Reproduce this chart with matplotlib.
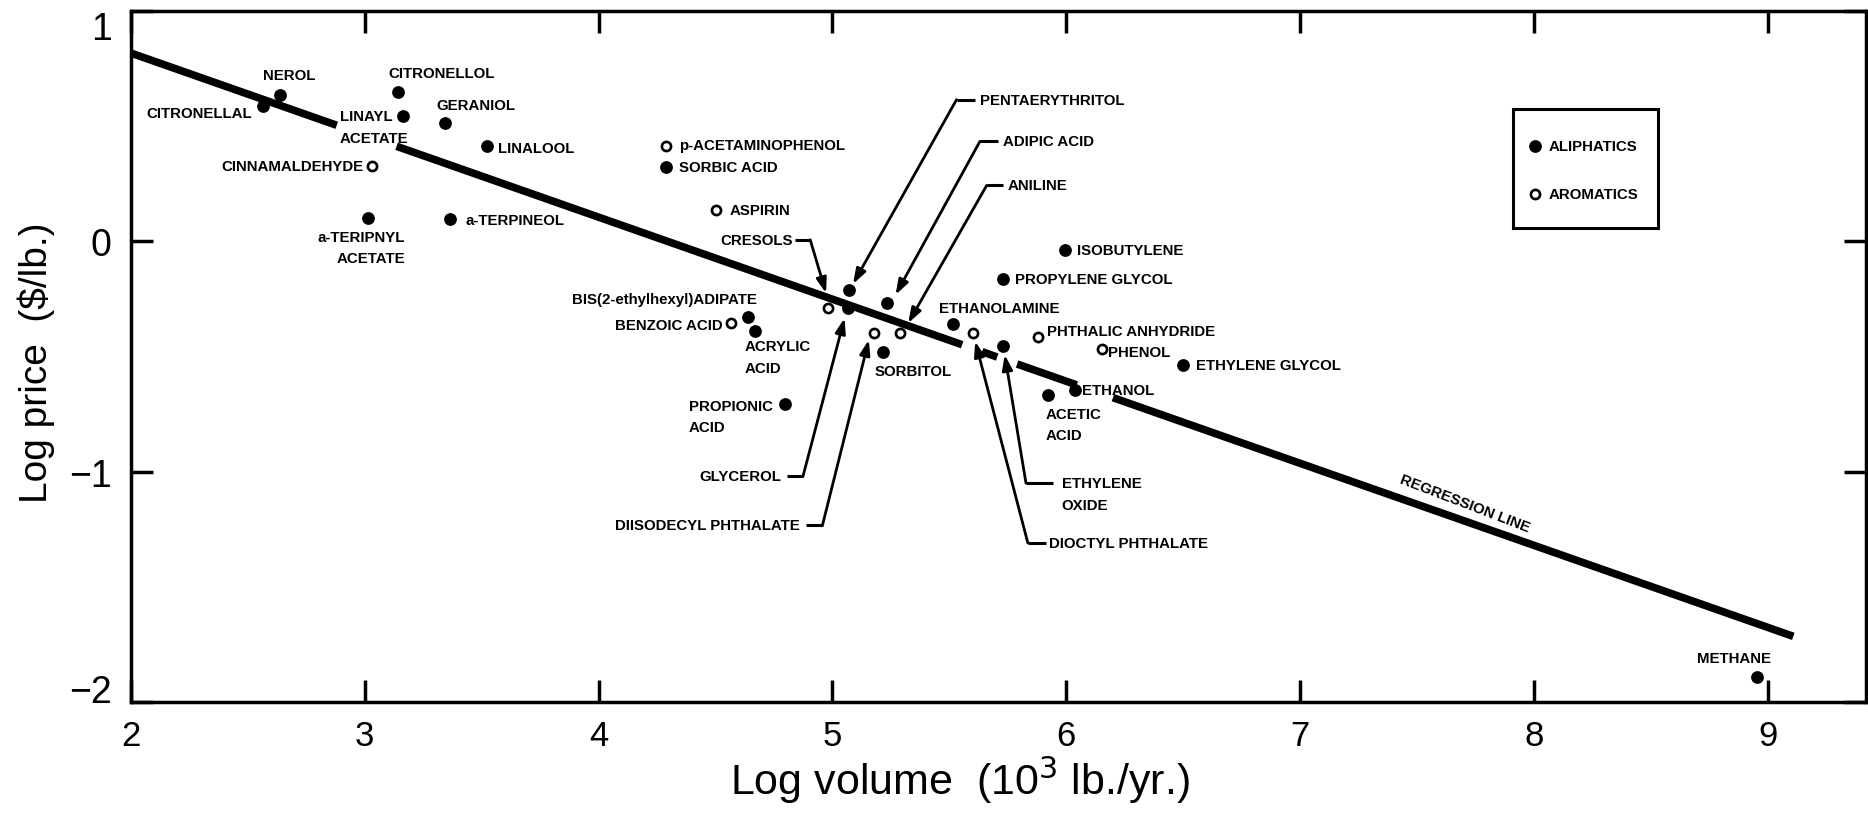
#!/usr/bin/env python

"""Log price versus log production volume of commodity chemicals, with the
regression line through the aliphatic and aromatic compounds.
"""

import matplotlib
matplotlib.use('Agg')
import matplotlib.pyplot as plt
from matplotlib.patches import Rectangle

# Aliphatic compounds (filled circles): log volume, log price
aliph_names = ['CITRONELLAL', 'NEROL', 'CITRONELLOL', 'LINAYL ACETATE',
               'GERANIOL', 'LINALOOL', 'a-TERIPNYL ACETATE', 'a-TERPINEOL',
               'SORBIC ACID', 'BIS(2-ethylhexyl)ADIPATE', 'ACRYLIC ACID',
               'PROPIONIC ACID', 'PENTAERYTHRITOL', 'GLYCEROL', 'ADIPIC ACID',
               'SORBITOL', 'ETHANOLAMINE', 'ETHYLENE OXIDE',
               'PROPYLENE GLYCOL', 'ISOBUTYLENE', 'ACETIC ACID', 'ETHANOL',
               'ETHYLENE GLYCOL', 'METHANE']
aliph_x = [2.566, 2.637, 3.143, 3.165, 3.343, 3.521, 3.015, 3.364,
           4.287, 4.637, 4.667, 4.797, 5.070, 5.065, 5.235, 5.217,
           5.515, 5.730, 5.728, 5.995, 5.923, 6.038, 6.500, 8.953]
aliph_y = [0.586, 0.635, 0.649, 0.541, 0.512, 0.411, 0.100, 0.097,
           0.322, -0.330, -0.392, -0.707, -0.213, -0.290, -0.270, -0.480,
           -0.360, -0.455, -0.165, -0.040, -0.667, -0.645, -0.537, -1.893]

# Aromatic compounds (open circles)
arom_names = ['CINNAMALDEHYDE', 'p-ACETAMINOPHENOL', 'ASPIRIN',
              'BENZOIC ACID', 'CRESOLS', 'DIISODECYL PHTHALATE', 'ANILINE',
              'DIOCTYL PHTHALATE', 'PHTHALIC ANHYDRIDE', 'PHENOL']
arom_x = [3.030, 4.290, 4.500, 4.565, 4.980, 5.180, 5.290, 5.600, 5.880,
          6.152]
arom_y = [0.324, 0.415, 0.133, -0.356, -0.290, -0.400, -0.400, -0.400,
          -0.414, -0.470]

# Regression line (log price = a + b * log volume), drawn in pieces
# because the printed line is interrupted under some labels
reg_intercept = 1.528
reg_slope = -0.356
reg_pieces = [(2.0, 2.88), (3.136, 5.555), (5.64, 5.705), (5.79, 6.045),
              (6.20, 9.11)]

# Label lines: text, x, y, horizontal alignment
labels = [
    ('NEROL', 2.676, 0.722, 'center'),
    ('CITRONELLAL', 2.516, 0.555, 'right'),
    ('CITRONELLOL', 3.100, 0.729, 'left'),
    ('LINAYL', 2.894, 0.541, 'left'),
    ('ACETATE', 2.894, 0.447, 'left'),
    ('CINNAMALDEHYDE', 2.994, 0.324, 'right'),
    ('GERANIOL', 3.307, 0.591, 'left'),
    ('LINALOOL', 3.571, 0.403, 'left'),
    ('a-TERIPNYL', 3.172, 0.017, 'right'),
    ('ACETATE', 3.172, -0.074, 'right'),
    ('a-TERPINEOL', 3.429, 0.092, 'left'),
    ('p-ACETAMINOPHENOL', 4.346, 0.418, 'left'),
    ('SORBIC ACID', 4.346, 0.320, 'left'),
    ('ASPIRIN', 4.560, 0.133, 'left'),
    ('CRESOLS', 4.830, 0.006, 'right'),
    ('BIS(2-ethylhexyl)ADIPATE', 4.675, -0.250, 'right'),
    ('BENZOIC ACID', 4.530, -0.363, 'right'),
    ('ACRYLIC', 4.626, -0.457, 'left'),
    ('ACID', 4.626, -0.551, 'left'),
    ('PROPIONIC', 4.385, -0.714, 'left'),
    ('ACID', 4.385, -0.807, 'left'),
    ('GLYCEROL', 4.780, -1.021, 'right'),
    ('DIISODECYL PHTHALATE', 4.860, -1.231, 'right'),
    ('SORBITOL', 5.182, -0.563, 'left'),
    ('PENTAERYTHRITOL', 5.630, 0.614, 'left'),
    ('ADIPIC ACID', 5.730, 0.433, 'left'),
    ('ANILINE', 5.750, 0.242, 'left'),
    ('ETHANOLAMINE', 5.458, -0.291, 'left'),
    ('ISOBUTYLENE', 6.045, -0.040, 'left'),
    ('PROPYLENE GLYCOL', 5.781, -0.165, 'left'),
    ('PHTHALIC ANHYDRIDE', 5.917, -0.392, 'left'),
    ('PHENOL', 6.180, -0.479, 'left'),
    ('ETHYLENE GLYCOL', 6.555, -0.539, 'left'),
    ('ETHANOL', 6.066, -0.645, 'left'),
    ('ACETIC', 5.912, -0.751, 'left'),
    ('ACID', 5.912, -0.843, 'left'),
    ('ETHYLENE', 5.980, -1.050, 'left'),
    ('OXIDE', 5.980, -1.144, 'left'),
    ('DIOCTYL PHTHALATE', 5.928, -1.310, 'left'),
    ('METHANE', 8.857, -1.809, 'center'),
]

# Leader lines: corner (start of the arrow), end of the short stub, tip
leaders = [
    ((5.531, 0.614), (5.609, 0.614), (5.088, -0.186)),   # pentaerythritol
    ((5.631, 0.433), (5.709, 0.433), (5.270, -0.233)),   # adipic acid
    ((5.660, 0.242), (5.731, 0.242), (5.324, -0.356)),   # aniline
    ((4.905, 0.006), (4.840, 0.006), (4.973, -0.226)),   # cresols
    ((4.874, -1.021), (4.805, -1.021), (5.052, -0.334)),  # glycerol
    ((4.958, -1.231), (4.887, -1.231), (5.156, -0.428)),  # diisodecyl
    ((5.828, -1.050), (5.943, -1.050), (5.737, -0.493)),  # ethylene oxide
    ((5.836, -1.310), (5.912, -1.310), (5.611, -0.435)),  # dioctyl
]

x_ticks = [2, 3, 4, 5, 6, 7, 8, 9]
y_ticks = [1, 0, -1, -2]

LABEL_SIZE = 10.8


def plot_price_volume():
    """Draw the scatter of log price against log volume."""

    plt.rcParams['font.family'] = ['Liberation Sans', 'DejaVu Sans']

    fig = plt.figure(figsize=(18.68, 8.20), dpi=100)
    axes = fig.add_axes([131 / 1868, 117 / 820, 1735 / 1868, 691.3 / 820])

    # regression line
    for x_start, x_end in reg_pieces:
        axes.plot([x_start, x_end],
                  [reg_intercept + reg_slope * x_start,
                   reg_intercept + reg_slope * x_end],
                  color='black', lw=5.5, solid_capstyle='butt', zorder=2)

    axes.plot(aliph_x, aliph_y, 'o', color='black', ms=9.2, mew=0, zorder=4)
    axes.plot(arom_x, arom_y, 'o', mfc='white', mec='black', ms=6.6,
              mew=1.9, zorder=4)

    for text, x_pos, y_pos, align in labels:
        axes.text(x_pos, y_pos, text, ha=align, va='center',
                  fontsize=LABEL_SIZE, fontweight='bold', zorder=5)

    axes.text(7.706, -1.137, 'REGRESSION LINE', ha='center', va='center',
              rotation=-21, rotation_mode='anchor', fontsize=LABEL_SIZE,
              fontweight='bold')

    for corner, stub_end, tip in leaders:
        axes.plot([corner[0], stub_end[0]], [corner[1], stub_end[1]],
                  color='black', lw=2.2, solid_capstyle='butt', zorder=3)
        axes.annotate('', xy=tip, xytext=corner,
                      arrowprops=dict(arrowstyle='-|>,head_length=0.5,'
                                      'head_width=0.17',
                                      mutation_scale=18, color='black',
                                      lw=2.0, shrinkA=0, shrinkB=0),
                      zorder=3)

    # legend box drawn by hand, as in the original figure
    axes.add_patch(Rectangle((7.911, 0.056), 0.620, 0.517, fill=False,
                             lw=2.2, edgecolor='black', zorder=3))
    axes.plot([8.005], [0.4135], 'o', color='black', ms=9.2, mew=0)
    axes.plot([8.005], [0.204], 'o', mfc='white', mec='black', ms=6.6,
              mew=1.9)
    axes.text(8.062, 0.4135, 'ALIPHATICS', ha='left', va='center',
              fontsize=LABEL_SIZE, fontweight='bold')
    axes.text(8.062, 0.204, 'AROMATICS', ha='left', va='center',
              fontsize=LABEL_SIZE, fontweight='bold')

    axes.set_xlim(2, 2 + 1735 / 233.8)
    axes.set_ylim(-2, 1)
    axes.set_xticks(x_ticks)
    axes.set_yticks(y_ticks)
    axes.tick_params(direction='in', length=16, width=2.5, top=True,
                     right=True)
    axes.tick_params(axis='x', labelsize=25, pad=12)
    axes.tick_params(axis='y', labelsize=27, pad=14)
    for spine in axes.spines.values():
        spine.set_linewidth(2.5)

    # the end labels sit inside the frame, as in the original
    y_labels = axes.get_yticklabels()
    y_labels[0].set_va('top')
    y_labels[-1].set_va('baseline')

    fig.text(960 / 1868, 1 - 795 / 820, 'Log volume  (10$^3$ lb./yr.)',
             ha='center', va='baseline', fontsize=31)
    fig.text(36 / 1868, 1 - 363 / 820, 'Log price  ($/lb.)',
             ha='center', va='center', rotation=90, fontsize=28)

    fig.savefig('out.png', dpi=100, facecolor='white')


def main():
    """Main function of the program."""

    plot_price_volume()


if __name__ == '__main__':
    main()
